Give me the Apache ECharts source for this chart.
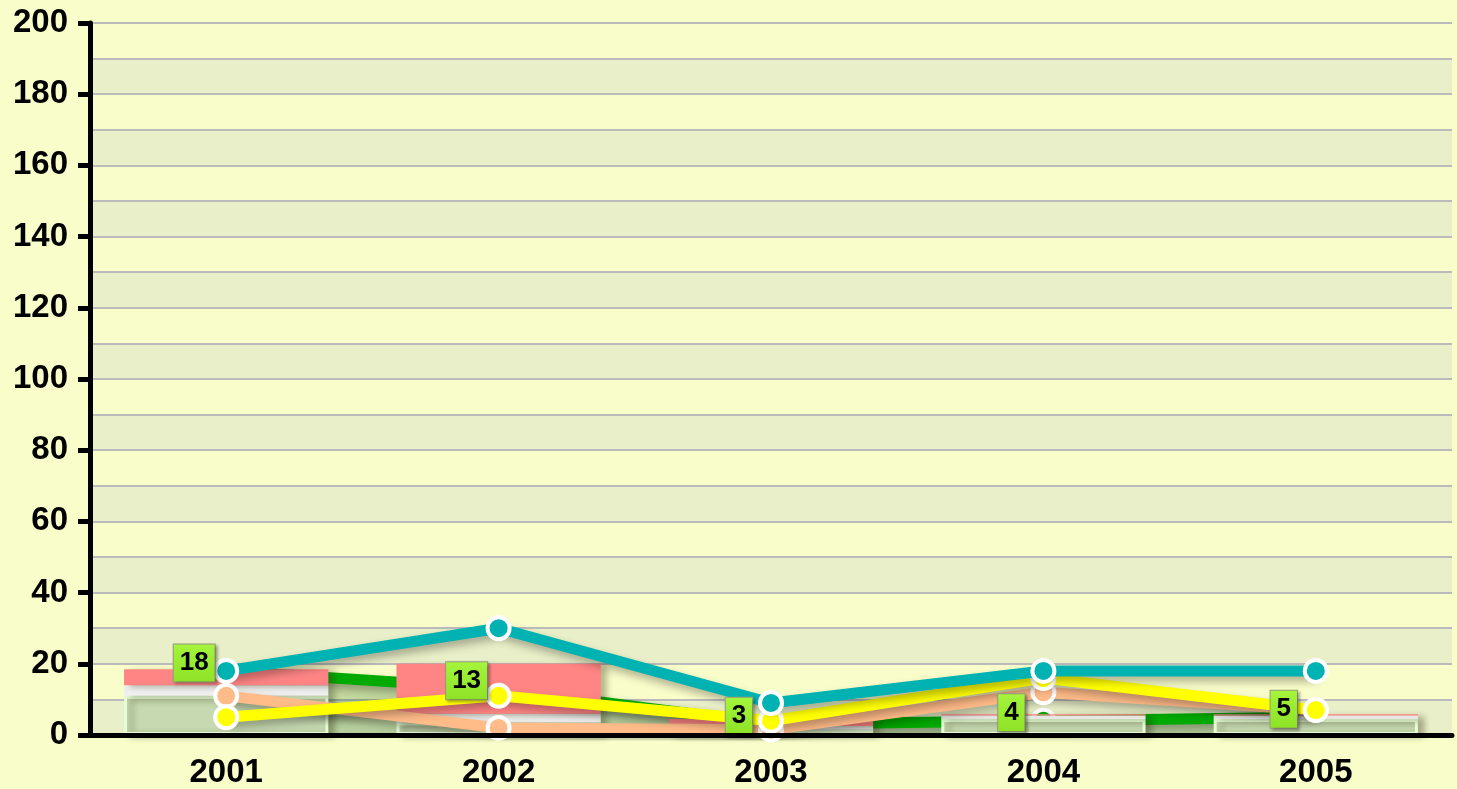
<!DOCTYPE html>
<html>
<head>
<meta charset="utf-8">
<style>
  html, body { margin: 0; padding: 0; background: #f9fdca; }
  #chart { width: 1457px; height: 789px; }
</style>
<script src="https://cdn.jsdelivr.net/npm/echarts@6/dist/echarts.min.js"></script>
</head>
<body>
<div id="chart"></div>
<script>
var years = ['2001', '2002', '2003', '2004', '2005']
// stacked bars
var barGreen = [11, 3.5, 1.5, 4.5, 4.5]
var barWhite = [3, 2.5, 1, 1, 1]
var barPink = [4.5, 14, 2, 0.3, 0.3]
// lines
var greenLine = [18, 13, 3, 4, 5]
var peachLine = [11, 2, 1.5, 12, 7]
var yellowLine = [5, 11, 4, 16, 7]
var tealLine = [18, 30, 9, 18, 18]

var font = "'Liberation Sans', Arial, sans-serif"
var chart = echarts.init(document.getElementById('chart'))

function lineSeries(name, data, color, z) {
  return {
    name: name,
    type: 'line',
    data: data,
    z: z,
    symbol: 'circle',
    symbolSize: 22,
    itemStyle: {
      color: color,
      borderColor: '#ffffff',
      borderWidth: 4
    },
    lineStyle: {
      color: color,
      width: 11,
      shadowColor: 'rgba(0,0,0,0.3)',
      shadowBlur: 8,
      shadowOffsetX: 2,
      shadowOffsetY: 5
    },
    animation: false
  }
}

function barSeries(name, data, style) {
  return {
    name: name,
    type: 'bar',
    stack: 'total',
    data: data,
    z: 3,
    barWidth: '75%',
    itemStyle: Object.assign({
      shadowColor: 'rgba(60,60,30,0.35)',
      shadowBlur: 6,
      shadowOffsetX: 6,
      shadowOffsetY: 2
    }, style),
    animation: false
  }
}

var green = lineSeries('green', greenLine, '#00aa00', 2)
green.areaStyle = { color: 'rgba(0,90,0,0.3)' }

chart.setOption({
  backgroundColor: '#f9fdca',
  grid: { left: 90, right: 5, top: 23, bottom: 51 },
  xAxis: {
    type: 'category',
    data: years,
    z: 20,
    axisLine: { lineStyle: { color: '#000', width: 5 } },
    axisTick: { length: 12, lineStyle: { color: '#000', width: 5 } },
    axisLabel: { color: '#000', fontSize: 33, fontWeight: 'bold', fontFamily: font, margin: 21 }
  },
  yAxis: [
    {
      type: 'value',
      min: 0,
      max: 200,
      interval: 20,
      z: 20,
      axisLine: { show: true, lineStyle: { color: '#000', width: 5 } },
      axisTick: { show: true, length: 12, lineStyle: { color: '#000', width: 5 } },
      axisLabel: { color: '#000', fontSize: 33, fontWeight: 'bold', fontFamily: font, margin: 22 },
      splitLine: { show: false }
    },
    {
      type: 'value',
      min: 0,
      max: 200,
      interval: 10,
      z: 0,
      axisLine: { show: false },
      axisTick: { show: false },
      axisLabel: { show: false },
      splitLine: { show: true, lineStyle: { color: '#bbbbbb', width: 2 } },
      splitArea: { show: true, areaStyle: { color: ['#e9efc8', '#f9fdca'] } }
    }
  ],
  series: [
    green,
    barSeries('base', barGreen, { color: '#c6d9b0', borderColor: '#e6fed6', borderWidth: 3 }),
    barSeries('middle', barWhite, { color: '#f0f0f0' }),
    barSeries('top', barPink, { color: '#ff8585' }),
    lineSeries('peach', peachLine, '#ffbb88', 4),
    lineSeries('yellow', yellowLine, '#ffff00', 5),
    lineSeries('teal', tealLine, '#00b2b2', 6),
    {
      name: 'labels',
      type: 'scatter',
      data: greenLine,
      z: 10,
      symbolSize: 1,
      itemStyle: { color: 'rgba(0,0,0,0)', opacity: 1 },
      label: {
        show: true,
        position: 'inside',
        offset: [-32, -8],
        color: '#000',
        fontSize: 26,
        fontWeight: 'bold',
        fontFamily: font,
        padding: [6, 6, 5, 6],
        borderColor: '#9a9a80',
        borderWidth: 1,
        backgroundColor: {
          type: 'linear', x: 0, y: 0, x2: 0, y2: 1,
          colorStops: [{ offset: 0, color: '#a4f53c' }, { offset: 1, color: '#8ee226' }]
        },
        shadowColor: 'rgba(0,0,0,0.3)',
        shadowBlur: 3,
        shadowOffsetX: 2,
        shadowOffsetY: 2
      },
      animation: false
    }
  ]
})
</script>
</body>
</html>
